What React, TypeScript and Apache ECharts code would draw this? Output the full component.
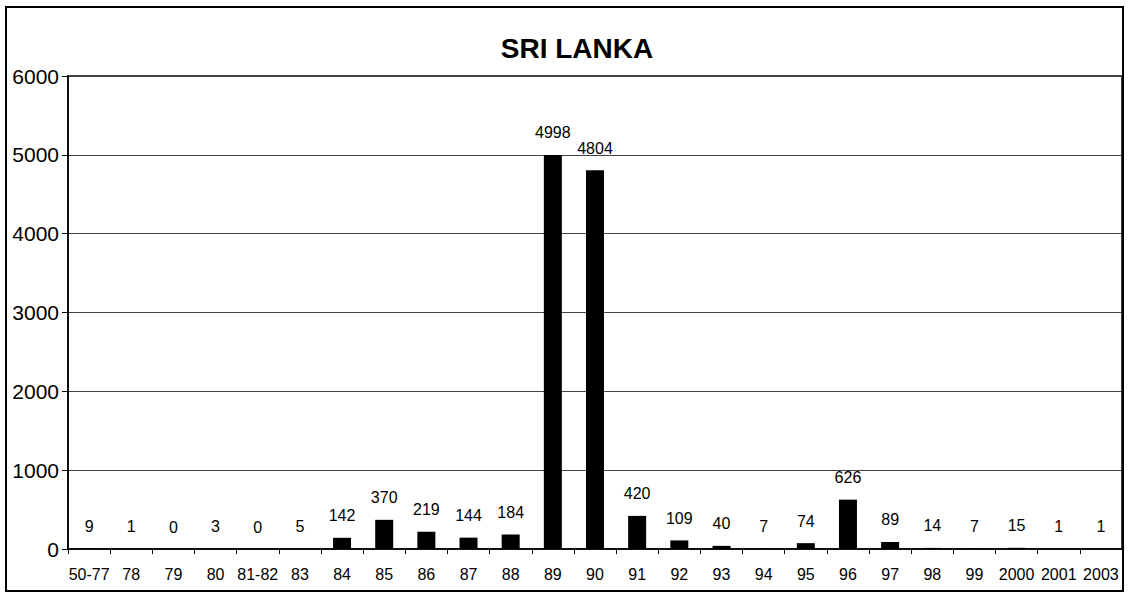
import React, { useEffect, useRef } from "react";
import * as echarts from "echarts";

const categories = ["50-77", "78", "79", "80", "81-82", "83", "84", "85", "86", "87", "88", "89", "90", "91", "92", "93", "94", "95", "96", "97", "98", "99", "2000", "2001", "2003"];
const values = [9, 1, 0, 3, 0, 5, 142, 370, 219, 144, 184, 4998, 4804, 420, 109, 40, 7, 74, 626, 89, 14, 7, 15, 1, 1];
const titleText = "SRI LANKA";
const yTicks = { min: 0, max: 6000, interval: 1000 };

const FONT = "Liberation Sans, Arial, sans-serif";

export default function App() {
  const ref = useRef<HTMLDivElement>(null);
  useEffect(() => {
    if (!ref.current) return;
    const chart = echarts.init(ref.current, null, { renderer: "svg" });
    chart.setOption({
      animation: false,
      backgroundColor: "#fff",
      grid: {
        left: 68,
        right: 10,
        top: 76,
        bottom: 45,
        show: true,
        borderColor: "#000",
        borderWidth: 1.5,
      },
      graphic: [
        {
          type: "rect",
          shape: { x: 6, y: 7, width: 1117, height: 584 },
          style: { fill: "none", stroke: "#000", lineWidth: 2 },
          z: 100,
        },
        {
          type: "text",
          x: 577,
          y: 48,
          style: {
            text: titleText,
            align: "center",
            verticalAlign: "middle",
            font: `bold 28px ${FONT}`,
            fill: "#000",
          },
        },
      ],
      xAxis: {
        type: "category",
        data: categories,
        boundaryGap: true,
        axisLine: { show: true, lineStyle: { color: "#000", width: 1.5 } },
        axisTick: { show: true, alignWithLabel: false, length: 5, lineStyle: { color: "#000" } },
        axisLabel: {
          interval: 0,
          color: "#000",
          fontFamily: FONT,
          fontSize: 16,
          margin: 17,
        },
        splitLine: { show: false },
      },
      yAxis: {
        type: "value",
        min: yTicks.min,
        max: yTicks.max,
        interval: yTicks.interval,
        axisLine: { show: true, lineStyle: { color: "#000", width: 1.5 } },
        axisTick: { show: true, length: 6, lineStyle: { color: "#000" } },
        axisLabel: {
          color: "#000",
          fontFamily: FONT,
          fontSize: 21,
          margin: 9,
          formatter: (v: number) => String(v),
        },
        splitLine: { show: true, lineStyle: { color: "#444", width: 1 } },
      },
      series: [
        {
          type: "bar",
          data: values,
          barWidth: 18,
          itemStyle: { color: "#000" },
          label: {
            show: true,
            position: "top",
            distance: 14,
            color: "#000",
            fontFamily: FONT,
            fontSize: 16,
          },
        },
      ],
    });
    return () => chart.dispose();
  }, []);
  return (
    <div
      ref={ref}
      style={{ position: "fixed", left: 0, top: 0, width: 1132, height: 594 }}
    />
  );
}
